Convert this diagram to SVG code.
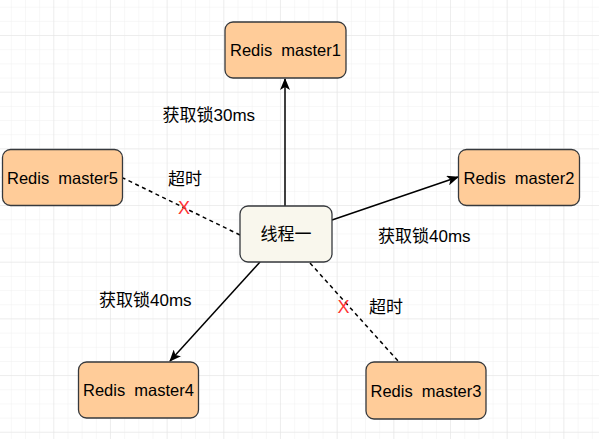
<svg xmlns="http://www.w3.org/2000/svg" width="599" height="439" viewBox="0 0 599 439">
<style>
.node rect{stroke:#36393d;stroke-width:1.3}
.m rect{fill:#ffcc99}
.t rect{fill:#f9f7ed}
.nt{font-family:"Liberation Sans","Noto Sans CJK SC",sans-serif;font-size:16.5px;fill:#000;text-anchor:middle;dominant-baseline:central;white-space:pre}
.lbl{font-family:"Liberation Sans","Noto Sans CJK SC",sans-serif;font-size:17px;fill:#000;dominant-baseline:central}
.x{font-family:"Liberation Sans",sans-serif;font-size:18px;fill:#ff3333;text-anchor:middle;dominant-baseline:central}
.solid{stroke:#000;stroke-width:1.5;fill:none;marker-end:url(#arr)}
.dash{stroke:#000;stroke-width:1.5;fill:none;stroke-dasharray:4 3.5}
</style>
<defs>
<pattern id="minor" patternUnits="userSpaceOnUse" x="-2.4" y="-20.67" width="14.17" height="14.17">
<path d="M14.17 0V14.17M0 14.17H14.17" stroke="#f0f0f0" stroke-width="1" fill="none"/>
</pattern>
<pattern id="major" patternUnits="userSpaceOnUse" x="-2.4" y="-20.67" width="56.67" height="56.67">
<path d="M56.67 0V56.67M0 56.67H56.67" stroke="#e3e3e3" stroke-width="1" fill="none"/>
</pattern>
<marker id="arr" markerUnits="userSpaceOnUse" viewBox="0 0 12 10" refX="11" refY="5" markerWidth="12" markerHeight="10" orient="auto">
<path d="M0 0L12 5L0 10L3 5Z" fill="#000"/>
</marker>
</defs>
<rect width="599" height="439" fill="#fff"/>
<rect width="599" height="439" fill="url(#minor)"/>
<rect width="599" height="439" fill="url(#major)"/>
<g id="connectors">
<line class="solid" x1="285" y1="206" x2="285" y2="79"/>
<line class="solid" x1="332" y1="220" x2="458" y2="177"/>
<line class="solid" x1="260" y1="262" x2="170" y2="361"/>
<line class="dash" x1="240" y1="235" x2="123" y2="178"/>
<line class="dash" x1="310" y1="263" x2="398" y2="361"/>
<text class="x" x="184" y="208">X</text>
<text class="x" x="343.5" y="306.5">X</text>
<text class="lbl" x="162.5" y="115">获取锁30ms</text>
<text class="lbl" x="378" y="236.5">获取锁40ms</text>
<text class="lbl" x="99" y="300.5">获取锁40ms</text>
<text class="lbl" x="168" y="179">超时</text>
<text class="lbl" x="369" y="307">超时</text>
</g>
<g id="master1" class="node m"><rect x="225" y="22" width="121" height="56" rx="8"/><text class="nt" x="285.5" y="50">Redis  master1</text></g>
<g id="master2" class="node m"><rect x="458.5" y="149.5" width="121" height="56" rx="8"/><text class="nt" x="519" y="177.5">Redis  master2</text></g>
<g id="master3" class="node m"><rect x="366" y="362" width="120" height="57" rx="8"/><text class="nt" x="426" y="390.5">Redis  master3</text></g>
<g id="master4" class="node m"><rect x="78.5" y="362" width="120" height="56" rx="8"/><text class="nt" x="138.5" y="390">Redis  master4</text></g>
<g id="master5" class="node m"><rect x="2.5" y="149.5" width="120" height="56" rx="8"/><text class="nt" x="62.5" y="177.5">Redis  master5</text></g>
<g id="thread1" class="node t"><rect x="240" y="206" width="92" height="56" rx="8"/><text class="nt" x="286" y="234" style="font-size:17px">线程一</text></g>
</svg>
